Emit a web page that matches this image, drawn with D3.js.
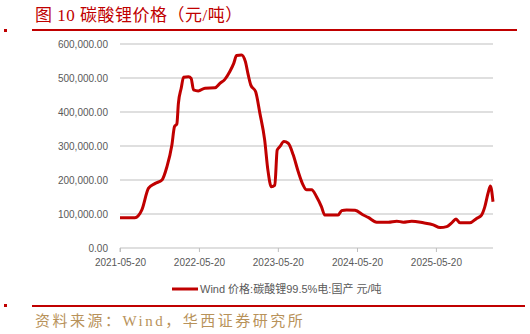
<!DOCTYPE html>
<html>
<head>
<meta charset="utf-8">
<script src="https://cdn.jsdelivr.net/npm/d3@7"></script>
<style>
  html, body { margin: 0; padding: 0; background: #fff; }
  svg { display: block; }
</style>
</head>
<body>
<div id="chart"></div>
<script>
(function () {
  'use strict';

  // Lithium carbonate price, yuan/ton
  const DATES = [
    '2021-05-20', '2021-07-28', '2021-08-29', '2021-09-29', '2021-10-30', '2021-11-30',
    '2021-12-23', '2022-01-15', '2022-01-27', '2022-02-07', '2022-02-14', '2022-02-27',
    '2022-03-10', '2022-04-02', '2022-04-14', '2022-04-25', '2022-05-17', '2022-06-17',
    '2022-08-02', '2022-08-25', '2022-09-17', '2022-10-10', '2022-10-28', '2022-11-10',
    '2022-12-03', '2022-12-21', '2023-01-03', '2023-01-15', '2023-02-06', '2023-02-26',
    '2023-03-20', '2023-04-04', '2023-04-20', '2023-05-06', '2023-05-17', '2023-05-29',
    '2023-06-17', '2023-07-07', '2023-07-30', '2023-08-22', '2023-09-14', '2023-09-30',
    '2023-10-23', '2023-11-15', '2023-12-08', '2023-12-23', '2024-02-23', '2024-03-10',
    '2024-04-02', '2024-05-11', '2024-06-18', '2024-07-11', '2024-08-19', '2024-10-12',
    '2024-11-20', '2024-12-20', '2025-01-28', '2025-03-23', '2025-05-08', '2025-06-08',
    '2025-07-09', '2025-08-01', '2025-08-21', '2025-09-08', '2025-10-24', '2025-11-24',
    '2025-12-17', '2026-01-01', '2026-01-16', '2026-01-27', '2026-02-08'
  ];
  const PRICES = [
    89000, 89000, 112000, 176000, 190000, 200000,
    239000, 303000, 357000, 365000, 425000, 470000,
    502000, 504000, 499000, 465000, 462000, 470000,
    471000, 484000, 496000, 519000, 543000, 566000,
    568000, 548000, 509000, 479000, 460000, 396000,
    318000, 229000, 180000, 185000, 288000, 298000,
    313000, 308000, 274000, 225000, 185000, 171000,
    171000, 151000, 121000, 97000, 97000, 110000,
    112000, 111000, 97000, 90000, 76000, 76000,
    79000, 76000, 79000, 74000, 68000, 60000,
    63000, 74000, 85000, 74000, 74000, 87000,
    97000, 121000, 161000, 182000, 136000
  ];
  const Y_TICKS = [0, 100000, 200000, 300000, 400000, 500000, 600000];
  const X_TICKS = ['2021-05-20', '2022-05-20', '2023-05-20', '2024-05-20', '2025-05-20'];

  const TITLE = '图 10 碳酸锂价格（元/吨）';
  const LEGEND = 'Wind 价格:碳酸锂99.5%电:国产 元/吨';
  const SOURCE = '资料来源：Wind，华西证券研究所';

  const RED = '#c00000';
  const GRID = '#bfbfbf';
  const LABEL = '#595959';
  const GOLD = '#b8925a';

  const W = 530, H = 334;
  const parse = d3.timeParse('%Y-%m-%d');
  const data = DATES.map((d, i) => ({ date: parse(d), value: PRICES[i] }));

  const svg = d3.select('#chart').append('svg')
    .attr('width', W).attr('height', H);

  // Header
  svg.append('rect').attr('x', 4).attr('y', 29).attr('width', 3).attr('height', 3).attr('fill', RED);
  svg.append('text')
    .attr('x', 35).attr('y', 21)
    .attr('fill', RED)
    .attr('font-family', '"Liberation Serif", "Noto Sans CJK SC", serif')
    .attr('font-size', 17)
    .attr('letter-spacing', 0.5)
    .text(TITLE);
  svg.append('line')
    .attr('x1', 32).attr('x2', 517).attr('y1', 30).attr('y2', 30)
    .attr('stroke', RED).attr('stroke-width', 2);

  // Scales
  const x = d3.scaleTime()
    .domain([parse(DATES[0]), parse(DATES[DATES.length - 1])])
    .range([120, 493]);
  const y = d3.scaleLinear().domain([0, 600000]).range([248, 44]);

  // Grid
  svg.append('g')
    .selectAll('line')
    .data(Y_TICKS.filter(v => v > 0))
    .join('line')
    .attr('x1', 120).attr('x2', 493)
    .attr('y1', d => y(d)).attr('y2', d => y(d))
    .attr('stroke', GRID).attr('stroke-width', 1);

  // Y labels
  const fmt = d3.format(',.2f');
  svg.append('g')
    .selectAll('text')
    .data(Y_TICKS)
    .join('text')
    .attr('x', 108).attr('y', d => y(d) + 3.5)
    .attr('text-anchor', 'end')
    .attr('fill', LABEL)
    .attr('font-family', '"Liberation Sans", Arial, sans-serif')
    .attr('font-size', 10)
    .text(d => fmt(d));

  // X axis
  const xAxis = d3.axisBottom(x)
    .tickValues(X_TICKS.map(parse))
    .tickSize(4)
    .tickFormat(d3.timeFormat('%Y-%m-%d'));
  const gx = svg.append('g').attr('transform', `translate(0,${y(0)})`).call(xAxis);
  gx.select('.domain').attr('stroke', GRID).attr('d', `M120,4V0H493`);
  gx.selectAll('.tick line').attr('stroke', GRID);
  gx.selectAll('.tick text')
    .attr('fill', LABEL)
    .attr('font-family', '"Liberation Sans", Arial, sans-serif')
    .attr('font-size', 10)
    .attr('dy', '1.05em');

  // Series
  const line = d3.line()
    .x(d => x(d.date))
    .y(d => y(d.value))
    .curve(d3.curveMonotoneX);
  svg.append('path')
    .datum(data)
    .attr('fill', 'none')
    .attr('stroke', RED)
    .attr('stroke-width', 3)
    .attr('stroke-linejoin', 'round')
    .attr('d', line);

  // Legend
  svg.append('line')
    .attr('x1', 172).attr('x2', 198).attr('y1', 289).attr('y2', 289)
    .attr('stroke', RED).attr('stroke-width', 3);
  svg.append('text')
    .attr('x', 200).attr('y', 293)
    .attr('fill', LABEL)
    .attr('font-family', '"Liberation Sans", "Noto Sans CJK SC", sans-serif')
    .attr('font-size', 11)
    .text(LEGEND);

  // Footer
  svg.append('rect').attr('x', 4).attr('y', 304).attr('width', 3).attr('height', 3).attr('fill', RED);
  svg.append('line')
    .attr('x1', 32).attr('x2', 525).attr('y1', 306).attr('y2', 306)
    .attr('stroke', RED).attr('stroke-width', 2);
  svg.append('text')
    .attr('x', 35).attr('y', 326)
    .attr('fill', GOLD)
    .attr('font-family', '"Liberation Serif", "Noto Sans CJK SC", serif')
    .attr('font-size', 15)
    .attr('letter-spacing', 2.5)
    .text(SOURCE);
})();
</script>
</body>
</html>
